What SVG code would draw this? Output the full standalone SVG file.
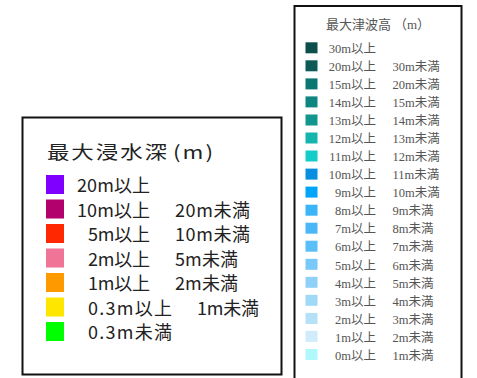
<svg xmlns="http://www.w3.org/2000/svg" width="477" height="378" viewBox="0 0 477 378">
<style>
.box{fill:#fff;stroke:#111;stroke-width:2}
.lt{font-family:"Noto Sans CJK JP","Noto Sans CJK SC",sans-serif;font-size:18px;fill:#222}
.rt{font-family:"Liberation Serif","Noto Sans CJK JP",serif;font-size:12.5px;fill:#555}
.rt2{font-family:"Liberation Serif","Noto Sans CJK JP",serif;font-size:13px;fill:#555}
</style>
<rect width="477" height="378" fill="#fff"/>
<g id="inundation-legend">
<rect class="box" x="22.5" y="117.5" width="259" height="257"/>
<text class="lt" transform="translate(47 159) scale(1.25 1)" x="0" y="0" font-size="16" textLength="96" lengthAdjust="spacing">最大浸水深</text>
<text class="lt" transform="translate(173 159) scale(1.25 1)" x="0" y="0" font-size="16" textLength="32" lengthAdjust="spacing">(m)</text>
<g id="i0"><rect x="46" y="175" width="18" height="19" fill="#8000ff"/><text class="lt" x="77" y="192" textLength="73" lengthAdjust="spacing">20m以上</text></g>
<g id="i1"><rect x="46" y="199.5" width="18" height="19" fill="#b2006c"/><text class="lt" x="77" y="216.5" textLength="73" lengthAdjust="spacing">10m以上</text><text class="lt" x="175" y="216.5" textLength="75" lengthAdjust="spacing">20m未満</text></g>
<g id="i2"><rect x="46" y="224" width="18" height="19" fill="#ff2800"/><text class="lt" x="88" y="241" textLength="62" lengthAdjust="spacing">5m以上</text><text class="lt" x="175" y="241" textLength="75" lengthAdjust="spacing">10m未満</text></g>
<g id="i3"><rect x="46" y="248.5" width="18" height="19" fill="#f07496"/><text class="lt" x="88" y="265.5" textLength="62" lengthAdjust="spacing">2m以上</text><text class="lt" x="175" y="265.5" textLength="63" lengthAdjust="spacing">5m未満</text></g>
<g id="i4"><rect x="46" y="273" width="18" height="19" fill="#ff9900"/><text class="lt" x="88" y="290" textLength="62" lengthAdjust="spacing">1m以上</text><text class="lt" x="175" y="290" textLength="63" lengthAdjust="spacing">2m未満</text></g>
<g id="i5"><rect x="46" y="297.5" width="18" height="19" fill="#ffe600"/><text class="lt" x="88" y="314.5" textLength="84" lengthAdjust="spacing">0.3m以上</text><text class="lt" x="197" y="314.5" textLength="62" lengthAdjust="spacing">1m未満</text></g>
<g id="i6"><rect x="46" y="322" width="18" height="19" fill="#00ff00"/><text class="lt" x="88" y="339" textLength="84" lengthAdjust="spacing">0.3m未満</text></g>
</g>
<g id="tsunami-legend">
<rect class="box" x="294.5" y="6" width="167" height="380"/>
<text class="rt2" x="326" y="29" textLength="65" lengthAdjust="spacing">最大津波高</text>
<text class="rt2" x="394" y="29" font-family="Noto Sans CJK JP,sans-serif">（m）</text>
<g id="t0"><rect x="305.5" y="42.3" width="12" height="11" fill="#0d4d4a"/><text class="rt" x="376" y="53" text-anchor="end">30m以上</text></g>
<g id="t1"><rect x="305.5" y="60.3" width="12" height="11" fill="#0d5a57"/><text class="rt" x="376" y="71" text-anchor="end">20m以上</text><text class="rt" x="392.5" y="71">30m未満</text></g>
<g id="t2"><rect x="305.5" y="78.4" width="12" height="11" fill="#0e7670"/><text class="rt" x="376" y="89.1" text-anchor="end">15m以上</text><text class="rt" x="392.5" y="89.1">20m未満</text></g>
<g id="t3"><rect x="305.5" y="96.4" width="12" height="11" fill="#0f8580"/><text class="rt" x="376" y="107.1" text-anchor="end">14m以上</text><text class="rt" x="392.5" y="107.1">15m未満</text></g>
<g id="t4"><rect x="305.5" y="114.5" width="12" height="11" fill="#12958f"/><text class="rt" x="376" y="125.2" text-anchor="end">13m以上</text><text class="rt" x="392.5" y="125.2">14m未満</text></g>
<g id="t5"><rect x="305.5" y="132.5" width="12" height="11" fill="#14b5ad"/><text class="rt" x="376" y="143.2" text-anchor="end">12m以上</text><text class="rt" x="392.5" y="143.2">13m未満</text></g>
<g id="t6"><rect x="305.5" y="150.5" width="12" height="11" fill="#14ccc8"/><text class="rt" x="376" y="161.2" text-anchor="end">11m以上</text><text class="rt" x="392.5" y="161.2">12m未満</text></g>
<g id="t7"><rect x="305.5" y="168.6" width="12" height="11" fill="#0a8ee0"/><text class="rt" x="376" y="179.3" text-anchor="end">10m以上</text><text class="rt" x="392.5" y="179.3">11m未満</text></g>
<g id="t8"><rect x="305.5" y="186.6" width="12" height="11" fill="#00a5fa"/><text class="rt" x="376" y="197.3" text-anchor="end">9m以上</text><text class="rt" x="392.5" y="197.3">10m未満</text></g>
<g id="t9"><rect x="305.5" y="204.7" width="12" height="11" fill="#3cb4f8"/><text class="rt" x="376" y="215.4" text-anchor="end">8m以上</text><text class="rt" x="392.5" y="215.4">9m未満</text></g>
<g id="t10"><rect x="305.5" y="222.7" width="12" height="11" fill="#4ab8f8"/><text class="rt" x="376" y="233.4" text-anchor="end">7m以上</text><text class="rt" x="392.5" y="233.4">8m未満</text></g>
<g id="t11"><rect x="305.5" y="240.7" width="12" height="11" fill="#5abef8"/><text class="rt" x="376" y="251.4" text-anchor="end">6m以上</text><text class="rt" x="392.5" y="251.4">7m未満</text></g>
<g id="t12"><rect x="305.5" y="258.8" width="12" height="11" fill="#78c8f8"/><text class="rt" x="376" y="269.5" text-anchor="end">5m以上</text><text class="rt" x="392.5" y="269.5">6m未満</text></g>
<g id="t13"><rect x="305.5" y="276.8" width="12" height="11" fill="#8ed0f8"/><text class="rt" x="376" y="287.5" text-anchor="end">4m以上</text><text class="rt" x="392.5" y="287.5">5m未満</text></g>
<g id="t14"><rect x="305.5" y="294.8" width="12" height="11" fill="#a0d8f8"/><text class="rt" x="376" y="305.5" text-anchor="end">3m以上</text><text class="rt" x="392.5" y="305.5">4m未満</text></g>
<g id="t15"><rect x="305.5" y="312.9" width="12" height="11" fill="#b4e0f8"/><text class="rt" x="376" y="323.6" text-anchor="end">2m以上</text><text class="rt" x="392.5" y="323.6">3m未満</text></g>
<g id="t16"><rect x="305.5" y="330.9" width="12" height="11" fill="#d0ecfc"/><text class="rt" x="376" y="341.6" text-anchor="end">1m以上</text><text class="rt" x="392.5" y="341.6">2m未満</text></g>
<g id="t17"><rect x="305.5" y="349" width="12" height="11" fill="#b0f8fc"/><text class="rt" x="376" y="359.7" text-anchor="end">0m以上</text><text class="rt" x="392.5" y="359.7">1m未満</text></g>
</g>
</svg>
